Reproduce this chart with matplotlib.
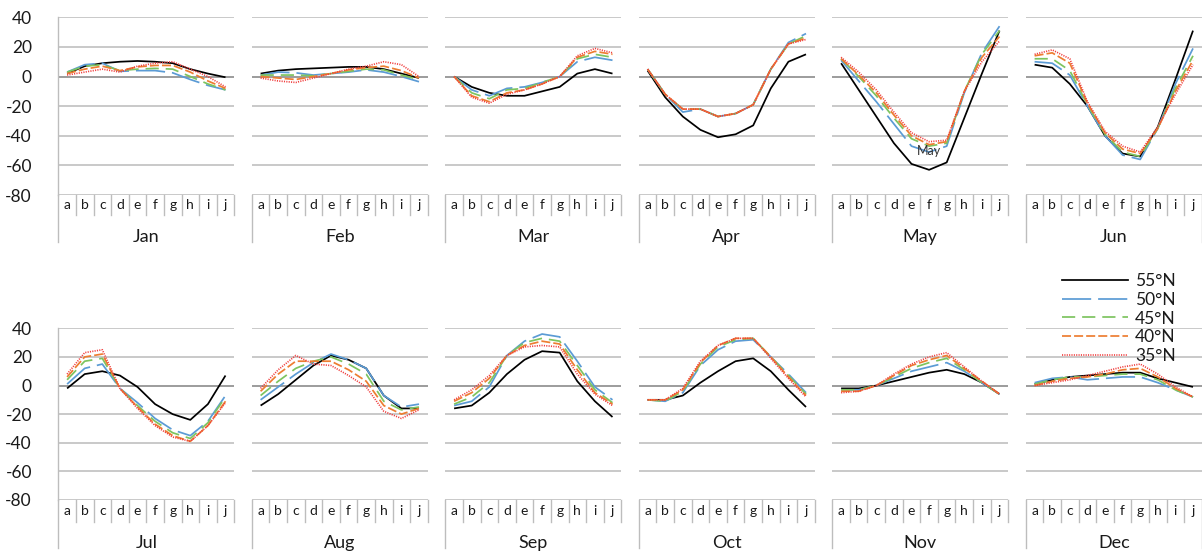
import matplotlib
matplotlib.use("Agg")
import matplotlib.pyplot as plt
from matplotlib.lines import Line2D
from matplotlib.transforms import blended_transform_factory

# ---------------- data ----------------
months = ["Jan", "Feb", "Mar", "Apr", "May", "Jun",
          "Jul", "Aug", "Sep", "Oct", "Nov", "Dec"]
categories = ["a", "b", "c", "d", "e", "f", "g", "h", "i", "j"]
series_names = ["55°N", "50°N", "45°N", "40°N", "35°N"]
y_ticks = [40, 20, 0, -20, -40, -60, -80]

lat55 = {
    "Jan": [2, 7, 9, 10, 10.5, 10, 9, 5, 2, -0.5],
    "Feb": [2, 4, 5, 5.5, 6, 6.5, 6.5, 5, 2, -1],
    "Mar": [0, -7, -11, -13, -13, -10, -7, 2, 5, 2],
    "Apr": [4, -14, -27, -36, -41, -39, -33, -8, 10, 15],
    "May": [9, -9, -27, -45, -59, -63, -58, -28, 2, 31],
    "Jun": [8, 6, -5, -20, -40, -52, -54, -34, -2, 31],
    "Jul": [-2, 8, 10, 7, -1, -13, -20, -24, -13, 7],
    "Aug": [-14, -6, 4, 14, 21, 18, 12, -7, -16, -16],
    "Sep": [-16, -14, -5, 8, 18, 24, 23, 3, -11, -22],
    "Oct": [-10, -10, -7, 2, 10, 17, 19, 10, -3, -15],
    "Nov": [-2, -2, 0, 3, 6, 9, 11, 8, 2, -6],
    "Dec": [1, 4, 6, 7, 8, 9, 9, 5, 2, -1],
}
lat50 = {
    "Jan": [3, 8, 9, 3.5, 4, 4, 2.5, -2, -6, -9],
    "Feb": [1, 3, 2.5, 1, 2, 3, 4.5, 3, 0, -3.5],
    "Mar": [0, -9, -13, -8, -7, -4, 0, 10, 13, 11],
    "Apr": [5, -12, -24, -22, -27, -25, -19, 5, 23, 29],
    "May": [11, -3, -17, -32, -47, -51, -47, -11, 16, 34],
    "Jun": [10, 9, 1, -20, -40, -53, -56, -35, -5, 19],
    "Jul": [1, 12, 15, -2, -12, -23, -31, -35, -25, -7],
    "Aug": [-10, -1, 8, 16, 22, 18, 12, -7, -15, -13],
    "Sep": [-14, -11, -1, 21, 31, 36, 34, 17, -1, -10],
    "Oct": [-10, -11, -5, 14, 25, 31, 32, 20, 8, -5],
    "Nov": [-3, -3, 0, 5, 10, 13, 16, 10, 2, -6],
    "Dec": [2, 5, 6, 4, 5, 6, 6, 2, -3, -8],
}
lat45 = {
    "Jan": [3, 7, 8, 4, 5, 5.5, 5, 0, -5, -9],
    "Feb": [1, 1, 1, 0.5, 2, 3.5, 5, 4.5, 1, -2],
    "Mar": [0, -11, -15, -9, -8, -4, 0, 12, 15, 13],
    "Apr": [5, -12, -22, -22, -27, -25, -19, 5, 22, 27.5],
    "May": [12, 0, -13, -28, -42, -47, -45, -10, 15, 31],
    "Jun": [12, 12, 4, -19, -39, -51, -54, -35, -8, 14],
    "Jul": [4, 17, 19, -2, -14, -25, -33, -37, -26, -8],
    "Aug": [-7, 3, 12, 17, 20, 15, 8, -11, -17, -15],
    "Sep": [-13, -8, 2, 21, 30, 33, 31, 14, -3, -12],
    "Oct": [-10, -11, -4, 15, 27, 32, 33, 20, 7, -6],
    "Nov": [-3, -3, 0, 6, 12, 16, 19, 11, 2, -6],
    "Dec": [1, 4, 6, 6, 7, 8, 8, 4, -3, -8],
}
lat40 = {
    "Jan": [2, 5, 7, 4, 6.5, 7.5, 7.5, 3, -3, -8],
    "Feb": [0, -1, -2, 0, 2, 4.5, 6, 7, 4, -1],
    "Mar": [0, -13, -17, -11, -9, -5, 0, 13, 17, 15],
    "Apr": [5, -12, -22, -22, -27, -25, -19, 5, 22, 26],
    "May": [12, 1, -11, -26, -40, -46, -44, -10, 13, 27],
    "Jun": [14, 16, 9, -18, -38, -49, -52, -35, -10, 11],
    "Jul": [6, 20, 22, -2, -15, -27, -35, -39, -28, -11],
    "Aug": [-4, 8, 17, 17, 17, 11, 3, -14, -20, -16],
    "Sep": [-11, -5, 5, 21, 28, 31, 29, 11, -5, -13],
    "Oct": [-10, -10, -3, 16, 28, 33, 33, 20, 6, -7],
    "Nov": [-4, -4, 0, 7, 14, 18, 21, 12, 3, -6],
    "Dec": [0, 3, 5, 6, 8, 11, 12, 6, -2, -8],
}
lat35 = {
    "Jan": [1, 3, 5, 3, 7, 9, 10, 5, 0, -7],
    "Feb": [-1, -3, -4, -1, 2, 5, 7, 10, 8, 0],
    "Mar": [0, -14, -18, -12, -9, -5, 0, 14, 19, 16],
    "Apr": [5, -12, -22, -22, -27, -25, -19, 5, 22, 25],
    "May": [13, 3, -9, -24, -38, -44, -43, -10, 10, 24],
    "Jun": [15, 18, 12, -17, -37, -47, -51, -34, -12, 8],
    "Jul": [8, 23, 25, -2, -16, -28, -36, -39, -28, -12],
    "Aug": [-2, 11, 21, 15, 14, 7, -1, -18, -23, -17],
    "Sep": [-10, -3, 7, 21, 27, 28, 27, 8, -6, -14],
    "Oct": [-10, -10, -2, 17, 28, 33, 33, 19, 5, -8],
    "Nov": [-5, -4, 0, 8, 15, 20, 23, 13, 3, -6],
    "Dec": [0, 2, 4, 7, 10, 13, 15, 8, -1, -8],
}
series_data = [lat55, lat50, lat45, lat40, lat35]

# ---------------- style ----------------
plt.rcParams["font.family"] = ["Lato", "DejaVu Sans"]
plt.rcParams["lines.scale_dashes"] = False

colors = ["#000000", "#5B9BD5", "#7DC45F", "#ED7D31", "#F03C3C"]
styles = ["-", (0, (21, 5)), (0, (9.5, 5)), (0, (6.5, 2.2)), (0, (0.8, 0.9))]
widths = [1.25, 1.25, 1.25, 1.25, 1.2]

W, H = 1202, 552
fig = plt.figure(figsize=(W / 100, H / 100), dpi=100)

grid_c = "#BDBDBD"
zero_c = "#9C9C9C"
text_c = "#1A1A1A"

panel_w = 176.0
step = 193.5
left0 = 58.3
rows = [  # (top_px, bottom_px, letters_y, month_y, long_sep_end, short_sep_end)
    (17.3, 195.0, 205.0, 237.0, 242.0, 215.0),
    (328.3, 500.0, 511.0, 543.0, 548.0, 521.5),
]


def fy(px):
    return 1 - px / H


for mi, month in enumerate(months):
    r = mi // 6
    c = mi % 6
    top, bot, let_y, mon_y, long_end, short_end = rows[r]
    lx = left0 + c * step
    ax = fig.add_axes([lx / W, fy(bot), panel_w / W, (bot - top) / H])
    ax.set_xlim(-0.5, 9.5)
    ax.set_ylim(-80, 40)
    for s in ax.spines.values():
        s.set_visible(False)
    ax.set_xticks([])
    if c == 0:
        ax.set_yticks(y_ticks)
        ax.set_yticklabels([str(v) for v in y_ticks], fontsize=12.5, color=text_c)
        ax.tick_params(axis="y", length=0, pad=19)
    else:
        ax.set_yticks([])
    for v in y_ticks:
        ax.axhline(v, color=zero_c if v == 0 else grid_c,
                   lw=1.4 if v == 0 else 1.15, zorder=1)

    xs = list(range(len(categories)))
    for si in range(len(series_names)):
        ax.plot(xs, series_data[si][month], color=colors[si],
                linestyle=styles[si], lw=widths[si], zorder=3,
                solid_capstyle="butt", dash_capstyle="butt")

    tr = blended_transform_factory(ax.transData, fig.transFigure)
    # category separators
    for k in range(len(categories) + 1):
        xb = -0.5 + k
        if k == 0 or (k == len(categories) and c == 5):
            y_end = long_end
        else:
            y_end = short_end
        ax.add_line(Line2D([xb, xb], [fy(bot), fy(y_end)], transform=tr,
                           color=grid_c, lw=1.0, clip_on=False))
    if c == 0:
        ax.add_line(Line2D([-0.5, -0.5], [fy(top), fy(bot)], transform=tr,
                           color=grid_c, lw=1.0, clip_on=False))
    for k, lab in enumerate(categories):
        ax.text(k, fy(let_y), lab, transform=tr, ha="center", va="center",
                fontsize=10, color=text_c)
    ax.text(4.5, fy(mon_y), month, transform=tr, ha="center", va="center",
            fontsize=13, color=text_c)
    if month == "May":
        ax.text(5, -50, "May", ha="center", va="center", fontsize=9,
                color="#333333", zorder=4)

handles = [Line2D([], [], color=colors[i], linestyle=styles[i], lw=widths[i])
           for i in range(len(series_names))]
fig.legend(handles, series_names, loc="upper left",
           bbox_to_anchor=(1062.3 / W, fy(273.0)), frameon=False,
           fontsize=12.5, handlelength=3.76, handletextpad=0.42,
           labelspacing=0.16, borderpad=0, borderaxespad=0,
           labelcolor=text_c)

fig.savefig("out.png", dpi=100)
